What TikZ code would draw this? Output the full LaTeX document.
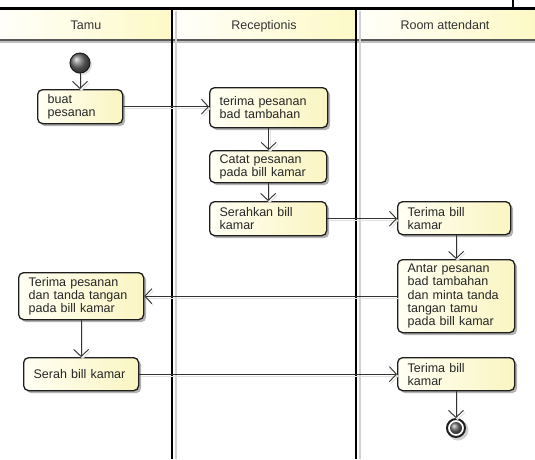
\documentclass[tikz,border=0pt]{standalone}
\usepackage{fontspec}
\setmainfont{Liberation Sans}
\usetikzlibrary{arrows.meta,shadows,positioning}

\definecolor{txt}{HTML}{262626}
\definecolor{edge}{HTML}{1E1E1E}
\definecolor{wire}{HTML}{333333}
\definecolor{paleyellow}{HTML}{FFFFF4}
\definecolor{deepyellow}{HTML}{FAF5C2}
\definecolor{headleft}{HTML}{FFFFFA}
\definecolor{headright}{HTML}{FDF9C6}

\tikzset{
  actbox/.style={
    draw=edge, line width=1.3pt, rounded corners=5pt,
    left color=paleyellow, right color=deepyellow,
    drop shadow={shadow xshift=2.5pt, shadow yshift=-2.5pt, opacity=0.3, fill=black},
    anchor=north west, align=left, inner xsep=10pt, inner ysep=0pt,
    font=\fontsize{12.5}{13.2}\selectfont, text=txt
  },
  flow/.style={
    draw=wire, line width=0.9pt,
    -{Straight Barb[length=7pt,width=15pt,line width=0.9pt]},
    preaction={draw=black!12, line width=0.9pt,
      transform canvas={xshift=1.5pt,yshift=-2pt}}
  },
  lane/.style={draw=black, line width=2pt},
  laneshade/.style={draw=black!18, line width=2pt},
  headtext/.style={font=\fontsize{12.5}{13.2}\selectfont, text=wire,
    anchor=base, inner sep=0pt}
}

% an activity given by its top-left corner, width and height
\newcommand{\actnode}[6]{%
  \pgfmathsetmacro{\actwidth}{#4-20}%
  \node[actbox, text width=\actwidth pt, minimum width=#4pt, minimum height=#5pt]
    (#1) at (#2,#3) {#6};%
}

\begin{document}
\begin{tikzpicture}[x=1pt,y=-1pt]
  \useasboundingbox (0,0) rectangle (535,459);
  \fill[white] (0,0) rectangle (535,459);

  % swimlane headers
  \shade[left color=headleft, right color=headright] (0,10) rectangle (172,40);
  \shade[left color=headleft, right color=headright] (176,10) rectangle (356,40);
  \shade[left color=headleft, right color=headright] (360,10) rectangle (535,40);
  \draw[black!25, line width=1.5pt] (0,42) -- (535,42);
  \draw[black!65, line width=1.2pt] (0,40) -- (535,40);
  \node[headtext] (hTamu) at (86,29.5) {Tamu};
  \node[headtext] (hRecep) at (264,29.5) {Receptionis};
  \node[headtext] (hRoom) at (445,29.5) {Room attendant};

  % lane separators
  \draw[laneshade] (176,11) -- (176,459);
  \draw[laneshade] (360,11) -- (360,459);
  \draw[lane] (172,8) -- (172,459);
  \draw[lane] (356,8) -- (356,459);

  % top border
  \draw[black, line width=2.5pt] (0,8.5) -- (535,8.5);
  \draw[black, line width=1.3pt] (513,0) -- (513,8.5);

  % start node
  \shade[ball color=black!55, drop shadow={shadow xshift=2pt, shadow yshift=-2pt, opacity=0.25}]
    (80,63) circle (10pt);
  \draw[edge, line width=1pt] (80,63) circle (10pt);
  \coordinate (start) at (80,73);

  % activities
  \actnode{buat}{37}{89}{85}{34}{buat\\pesanan}
  \actnode{terima}{209}{87}{118}{40}{terima pesanan\\bad tambahan}
  \actnode{catat}{209}{150}{117}{32}{Catat pesanan\\pada bill kamar}
  \actnode{serahkan}{209}{201}{117}{34}{Serahkan bill\\kamar}
  \actnode{raA}{397}{201}{113}{33}{Terima bill\\kamar}
  \actnode{antar}{397}{259}{117}{73}{Antar pesanan\\bad tambahan\\dan minta tanda\\tangan tamu\\pada bill kamar}
  \actnode{ttd}{18}{272}{125}{47}{Terima pesanan\\dan tanda tangan\\pada bill kamar}
  \actnode{serah}{23}{357}{115}{33}{Serah bill kamar}
  \actnode{raB}{397}{357}{117}{33}{Terima bill\\kamar}

  % final node
  \fill[black!30, opacity=0.6] (458,430) circle (10.5pt);
  \fill[white] (456,428) circle (10pt);
  \draw[edge, line width=2pt] (456,428) circle (9pt);
  \shade[ball color=black!55] (456,428) circle (6pt);
  \coordinate (finish) at (456,418);

  % control flow
  \draw[flow] (start) -- (start |- buat.north);
  \draw[flow] (buat.east) -- (buat.east -| terima.west);
  \draw[flow] (terima.south) -- (terima.south |- catat.north);
  \draw[flow] (catat.south) -- (catat.south |- serahkan.north);
  \draw[flow] (serahkan.east) -- (serahkan.east -| raA.west);
  \draw[flow] (antar.north |- raA.south) -- (antar.north);
  \draw[flow] (antar.west) -- (antar.west -| ttd.east);
  \draw[flow] (ttd.south) -- (ttd.south |- serah.north);
  \draw[flow] (serah.east) -- (serah.east -| raB.west);
  \draw[flow] (finish |- raB.south) -- (finish);
\end{tikzpicture}
\end{document}
